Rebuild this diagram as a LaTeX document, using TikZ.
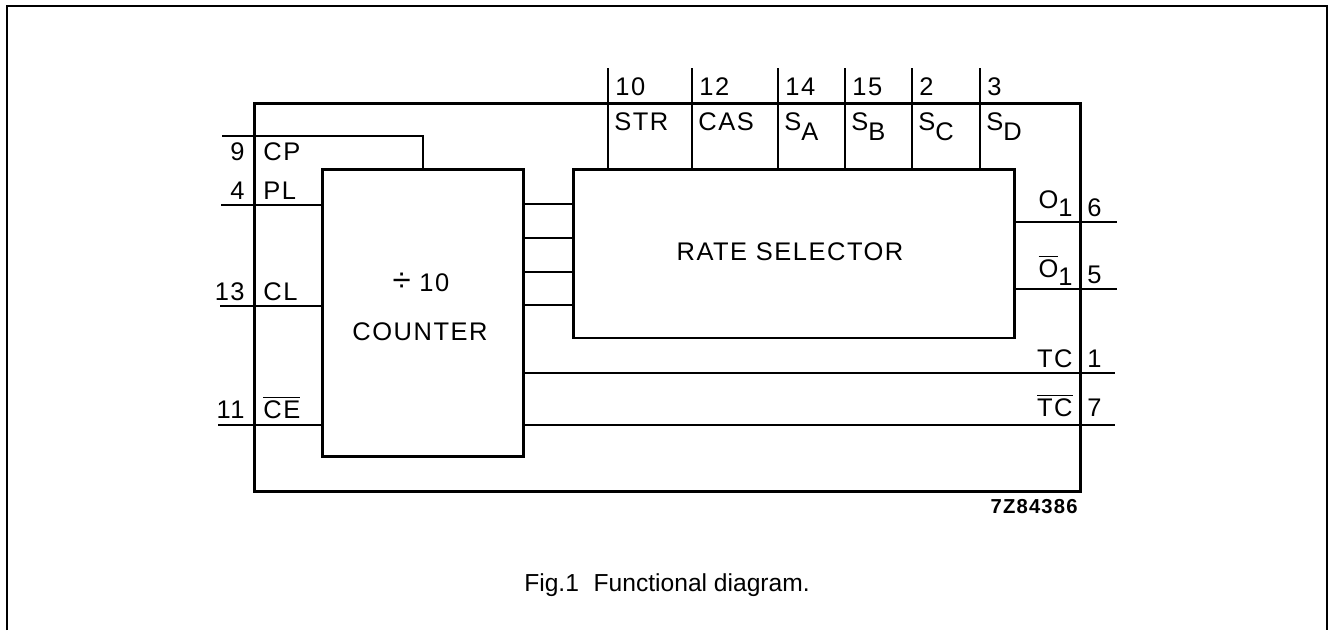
\documentclass[tikz,border=0pt]{standalone}
\usepackage{fontspec}
\setmainfont{Liberation Sans}
\newfontfamily\lblfont[LetterSpace=6]{Liberation Sans}
\usetikzlibrary{positioning}
\newcommand{\sublbl}[2]{#1\raisebox{-0.8ex}{#2}}
\newcommand{\barlbl}[1]{$\overline{\hbox{#1}}$}

\begin{document}
\begin{tikzpicture}[
  x=0.02cm, y=-0.02cm,
  every node/.style={font=\lblfont\fontsize{14.5}{17}\selectfont, inner sep=0pt},
  blockbox/.style={draw, line width=1.7pt, inner sep=0pt, outer sep=0pt},
  wire/.style={line width=1.2pt},
]
\useasboundingbox (0,0) rectangle (1329,630);

% Page frame
\draw[line width=1.1pt] (7,630) -- (7,6) -- (1327,6) -- (1327,630);

% Package outline and blocks
\node[blockbox, minimum width=16.54cm, minimum height=7.78cm] (pkg) at (667.5,297.5) {};
\node[blockbox, minimum width=4.04cm, minimum height=5.76cm] (cnt) at (423,313) {};
\node[blockbox, minimum width=8.84cm, minimum height=3.38cm] (rsel) at (794,253.5) {};

\node (rseltxt) at (790,252) {RATE SELECTOR};
\node (divtxt) at (421,282) {\scalebox{1.3}{\char"00F7}\ 10};
\node (cnttxt) at (420,332) {COUNTER};

% Counter outputs to rate selector
\foreach \y [count=\i] in {204, 238, 272, 305} {
  \coordinate (q\i) at (500,\y);
  \draw[wire] (q\i -| cnt.east) -- (q\i -| rsel.west);
}

% Top pins
\foreach \x/\num/\lbl in {608/10/STR, 692/12/CAS, 778/14/\sublbl{S}{A},
                          845/15/\sublbl{S}{B}, 912/2/\sublbl{S}{C}, 980/3/\sublbl{S}{D}} {
  \coordinate (t\num) at (\x,68);
  \draw[wire] (t\num) -- (t\num |- rsel.north);
  \node[anchor=base west] (n\num) at (\x+7,95) {\num};
  \node[anchor=base west] (l\num) at (\x+6,130) {\lbl};
}

% Left pins
\coordinate (p9)  at (222,136);
\coordinate (p4)  at (221,205);
\coordinate (p13) at (220,306);
\coordinate (p11) at (218,425);
\draw[wire] (p9) -| (cnt.north);
\draw[wire] (p4) -- (p4 -| cnt.west);
\draw[wire] (p13) -- (p13 -| cnt.west);
\draw[wire] (p11) -- (p11 -| cnt.west);

\foreach \y/\num/\lbl in {160/9/CP, 199/4/PL, 300/13/CL, 418/11/\barlbl{CE}} {
  \node[anchor=base east] (ln\num) at (245,\y) {\num};
  \node[anchor=base west] (ll\num) at (263,\y) {\lbl};
}

% Right pins
\coordinate (p6) at (1117,222);
\coordinate (p5) at (1117,289);
\coordinate (p1) at (1115,373);
\coordinate (p7) at (1115,425);
\draw[wire] (rsel.east |- p6) -- (p6);
\draw[wire] (rsel.east |- p5) -- (p5);
\draw[wire] (cnt.east |- p1) -- (p1);
\draw[wire] (cnt.east |- p7) -- (p7);

\node[anchor=base east] (rl6) at (1073,208) {O\raisebox{-0.6ex}{1}};
\node[anchor=base west] (rn6) at (1087,216) {6};
\node[anchor=base east] (rl5) at (1073,277) {\barlbl{O}\raisebox{-0.6ex}{1}};
\node[anchor=base west] (rn5) at (1087,283) {5};
\node[anchor=base east] (rl1) at (1073,367) {TC};
\node[anchor=base west] (rn1) at (1087,367) {1};
\node[anchor=base east] (rl7) at (1073,416) {\barlbl{TC}};
\node[anchor=base west] (rn7) at (1087,416) {7};

% Drawing number and caption
\node[anchor=base east, font=\lblfont\bfseries\fontsize{11.5}{13}\selectfont] (code) at (1078,513) {7Z84386};
\node[font=\fontsize{14}{16}\selectfont, anchor=base] (caption) at (667,591) {Fig.1\hspace{0.6em}Functional diagram.};

\end{tikzpicture}
\end{document}
